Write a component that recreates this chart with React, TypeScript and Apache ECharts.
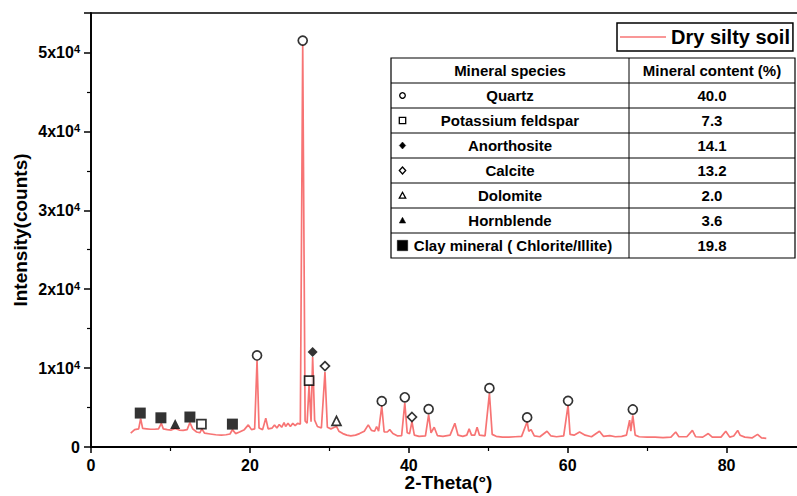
import React, { useEffect, useRef } from "react";
import * as echarts from "echarts";

const FONT = "'Liberation Sans', Arial, sans-serif";

// XRD pattern: [2-theta (deg), intensity (counts)]
const xrdPattern: [number, number][] = [
  [5.0, 1750], [5.5, 2200], [6.0, 2300], [6.25, 3600], [6.5, 2350], [7.0, 2300], [7.5, 2250],
  [8.0, 2250], [8.5, 2300], [8.85, 3000], [9.1, 2300], [9.6, 2200], [10.1, 2150], [10.6, 2350],
  [11.1, 2150], [11.6, 2100], [12.1, 2200], [12.45, 3100], [12.8, 2300], [13.3, 1900], [13.7, 1800],
  [13.95, 2300], [14.3, 1750], [15.0, 1650], [15.7, 1550], [16.4, 1500], [17.0, 1550], [17.5, 1650],
  [17.8, 2200], [18.2, 1700], [18.7, 1900], [19.3, 2200], [19.8, 2800], [20.2, 2200], [20.6, 2300],
  [20.9, 11000], [21.15, 2400], [21.6, 2200], [22.0, 3650], [22.3, 2300], [22.8, 2400], [23.1, 2800],
  [23.4, 2400], [23.7, 2850], [24.0, 2500], [24.3, 3100], [24.5, 2600], [24.8, 3000], [25.1, 2600],
  [25.4, 3000], [25.7, 2700], [26.0, 3000], [26.35, 2900], [26.65, 51000], [26.95, 3300], [27.2, 3000],
  [27.45, 7850], [27.7, 3200], [27.9, 11400], [28.15, 3400], [28.5, 2600], [29.0, 2400], [29.45, 9500],
  [29.75, 2500], [30.2, 2300], [30.65, 2500], [30.9, 2600], [31.2, 2000], [31.7, 1700], [32.2, 1500],
  [32.7, 1400], [33.3, 1500], [33.8, 1700], [34.4, 2000], [34.9, 2800], [35.3, 2100], [35.7, 2000],
  [35.95, 2600], [36.2, 2000], [36.6, 5200], [36.9, 1900], [37.3, 1900], [37.6, 2200], [38.0, 1700],
  [38.6, 1400], [39.1, 1450], [39.5, 5600], [39.8, 1800], [40.1, 1700], [40.4, 3200], [40.7, 1500],
  [41.3, 1350], [42.1, 1400], [42.5, 4100], [42.8, 1800], [43.2, 2500], [43.6, 1450], [44.3, 1350],
  [45.2, 1500], [45.8, 3000], [46.2, 1500], [46.8, 1350], [47.3, 1500], [47.6, 2300], [47.9, 1500],
  [48.3, 1500], [48.6, 2500], [48.9, 1500], [49.6, 1400], [50.15, 6800], [50.5, 1600], [51.0, 1350],
  [51.8, 1250], [52.6, 1250], [53.4, 1300], [54.2, 1350], [54.9, 3200], [55.1, 2000], [55.4, 2200],
  [55.8, 1400], [56.5, 1300], [57.4, 2000], [57.9, 1400], [58.6, 1300], [59.5, 1400], [60.05, 5300],
  [60.3, 1600], [60.8, 1500], [61.5, 1900], [62.2, 1500], [63.0, 1300], [64.0, 2000], [64.5, 1350],
  [65.3, 1450], [66.0, 1300], [66.8, 1350], [67.4, 1500], [67.8, 3400], [67.95, 2000], [68.2, 4000],
  [68.5, 1500], [69.0, 1300], [70.0, 1250], [71.0, 1250], [72.0, 1200], [73.0, 1250], [73.6, 1900],
  [74.0, 1300], [75.0, 1300], [75.7, 2100], [76.1, 1300], [77.0, 1250], [77.7, 1700], [78.2, 1250],
  [79.3, 1250], [79.9, 2000], [80.4, 1250], [80.9, 1400], [81.4, 2100], [81.7, 1500], [82.3, 1250],
  [83.2, 1150], [83.9, 1600], [84.4, 1150], [85.0, 1100],
];

// Phase markers placed above peaks: [2-theta, intensity]
const quartzMarks: [number, number][] = [
  [20.9, 11600], [26.65, 51500], [36.6, 5800], [39.5, 6300], [42.5, 4800],
  [50.15, 7450], [54.9, 3750], [60.05, 5850], [68.2, 4750],
];
const feldsparMarks: [number, number][] = [[13.9, 2900], [27.45, 8400]];
const anorthositeMarks: [number, number][] = [[27.9, 12050]];
const calciteMarks: [number, number][] = [[29.45, 10250], [40.4, 3800]];
const dolomiteMarks: [number, number][] = [[30.9, 3300]];
const hornblendeMarks: [number, number][] = [[10.6, 2900]];
const clayMarks: [number, number][] = [[6.2, 4300], [8.8, 3700], [12.45, 3800], [17.8, 2900]];

// Table contents
const tableHeader = ["Mineral species", "Mineral content (%)"];
const mineralNames = [
  "Quartz", "Potassium feldspar", "Anorthosite", "Calcite", "Dolomite", "Hornblende",
  "Clay mineral ( Chlorite/Illite)",
];
const mineralContents = ["40.0", "7.3", "14.1", "13.2", "2.0", "3.6", "19.8"];
const mineralSymbols = ["circleO", "rectO", "diamondF", "diamondO", "triangleO", "triangleF", "rectF"];

const xTicks = { min: 0, max: 90, interval: 20 };
const yTicks = { min: 0, max: 55000, interval: 10000 };

const seriesName = "Dry silty soil";

function symbolGraphic(kind: string, cx: number, cy: number, big: boolean): any {
  const s = big ? 5.2 : 3.2;
  const filled = kind.endsWith("F");
  const style = { fill: filled ? "#000" : "#fff", stroke: "#000", lineWidth: filled ? 0.5 : 1.3 };
  if (kind.startsWith("circle")) return { type: "circle", shape: { cx, cy, r: s - 0.4 }, style };
  if (kind.startsWith("rect"))
    return { type: "rect", shape: { x: cx - s, y: cy - s, width: 2 * s, height: 2 * s }, style };
  if (kind.startsWith("diamond"))
    return { type: "polygon", shape: { points: [[cx, cy - s - 0.3], [cx + s, cy], [cx, cy + s + 0.3], [cx - s, cy]] }, style };
  return { type: "polygon", shape: { points: [[cx, cy - s], [cx + s, cy + s * 0.8], [cx - s, cy + s * 0.8]] }, style };
}

function buildTable(): any[] {
  const x0 = 391, x1 = 629, x2 = 795, y0 = 58, rh = 25;
  const rows = mineralNames.length + 1;
  const els: any[] = [];
  els.push({
    type: "rect",
    shape: { x: x0, y: y0, width: x2 - x0, height: rh * rows },
    style: { fill: "#fff", stroke: "#000", lineWidth: 1.2 },
  });
  for (let i = 1; i < rows; i++) {
    els.push({ type: "line", shape: { x1: x0, y1: y0 + rh * i, x2: x2, y2: y0 + rh * i }, style: { stroke: "#000", lineWidth: 1 } });
  }
  els.push({ type: "line", shape: { x1: x1, y1: y0, x2: x1, y2: y0 + rh * rows }, style: { stroke: "#000", lineWidth: 1 } });
  const txt = (t: string, x: number, y: number) => ({
    type: "text",
    style: { text: t, x, y, align: "center", verticalAlign: "middle", font: `bold 15px ${FONT}`, fill: "#000" },
  });
  els.push(txt(tableHeader[0], (x0 + x1) / 2, y0 + rh / 2));
  els.push(txt(tableHeader[1], (x1 + x2) / 2, y0 + rh / 2));
  mineralNames.forEach((n, i) => {
    const cy = y0 + rh * (i + 1) + rh / 2;
    const last = i === mineralNames.length - 1;
    els.push(txt(n, last ? 513 : (x0 + x1) / 2, cy));
    els.push(txt(mineralContents[i], (x1 + x2) / 2, cy));
    els.push(symbolGraphic(mineralSymbols[i], 402.5, cy, last));
  });
  return els;
}

export default function App() {
  const ref = useRef<HTMLDivElement>(null);
  useEffect(() => {
    document.body.style.margin = "0";
    const chart = echarts.init(ref.current!, undefined, { renderer: "svg" });
    const markSeries = (data: [number, number][], symbol: string, filled: boolean, size: number) => ({
      type: "scatter",
      data,
      symbol,
      symbolSize: size,
      z: 5,
      itemStyle: { color: filled ? "#000" : "#fff", borderColor: "#000", borderWidth: filled ? 0 : 1.7 },
      silent: true,
    });
    chart.setOption({
      animation: false,
      backgroundColor: "#fff",
      textStyle: { fontFamily: FONT },
      grid: {
        left: 91, top: 13, bottom: 49, right: -9, show: true, borderColor: "#000", borderWidth: 1.5,
        outerBoundsMode: "none", containLabel: false,
      },
      legend: {
        data: [{ name: seriesName, icon: "rect" }],
        left: 617,
        top: 23,
        itemWidth: 46,
        itemHeight: 1.6,
        itemGap: 4,
        padding: [3, 3, 3, 3],
        borderColor: "#000",
        borderWidth: 1.5,
        backgroundColor: "#fff",
        textStyle: { fontSize: 20, fontWeight: "bold", color: "#000", fontFamily: FONT, lineHeight: 22 },
      },
      xAxis: {
        type: "value",
        min: xTicks.min,
        max: xTicks.max,
        interval: xTicks.interval,
        name: "2-Theta(°)",
        nameLocation: "middle",
        nameGap: 26,
        nameMoveOverlap: false,
        nameTextStyle: { fontSize: 19, fontWeight: "bold", color: "#000", fontFamily: FONT, lineHeight: 19 },
        axisLine: { lineStyle: { color: "#000", width: 1.8 } },
        axisTick: { length: 6, lineStyle: { color: "#000", width: 1.5 } },
        minorTick: { show: true, splitNumber: 2, length: 4, lineStyle: { color: "#000", width: 1.2 } },
        splitLine: { show: false },
        axisLabel: { margin: 10, fontSize: 16, fontWeight: "bold", color: "#000", fontFamily: FONT, showMaxLabel: false },
      },
      yAxis: {
        type: "value",
        min: yTicks.min,
        max: yTicks.max,
        interval: yTicks.interval,
        name: "Intensity(counts)",
        nameLocation: "middle",
        nameGap: 61,
        nameMoveOverlap: false,
        nameTextStyle: { fontSize: 19, fontWeight: "bold", color: "#000", fontFamily: FONT },
        axisLine: { show: true, lineStyle: { color: "#000", width: 1.8 } },
        axisTick: { show: true, length: 7, lineStyle: { color: "#000", width: 1.5 } },
        minorTick: { show: true, splitNumber: 2, length: 4, lineStyle: { color: "#000", width: 1.2 } },
        splitLine: { show: false },
        axisLabel: {
          margin: 11,
          color: "#000",
          showMaxLabel: false,
          formatter: (v: number) => (v === 0 ? "{b|0}" : `{b|${v / 10000}x10}{s|4}`),
          rich: {
            b: { fontSize: 16, fontWeight: "bold", color: "#000", fontFamily: FONT, lineHeight: 18 },
            s: { fontSize: 11, fontWeight: "bold", color: "#000", fontFamily: FONT, verticalAlign: "top", lineHeight: 11 },
          },
        },
      },
      series: [
        {
          name: seriesName,
          type: "line",
          data: xrdPattern,
          symbol: "none",
          showSymbol: false,
          lineStyle: { color: "#f77474", width: 1.7 },
          itemStyle: { color: "#f77474" },
          z: 3,
        },
        markSeries(quartzMarks, "circle", false, 9),
        markSeries(feldsparMarks, "rect", false, 9),
        markSeries(anorthositeMarks, "diamond", true, 10),
        markSeries(calciteMarks, "diamond", false, 9),
        markSeries(dolomiteMarks, "triangle", false, 9),
        markSeries(hornblendeMarks, "triangle", true, 10),
        markSeries(clayMarks, "rect", true, 11),
      ],
      graphic: buildTable(),
    });
    return () => chart.dispose();
  }, []);
  return <div ref={ref} style={{ width: 797, height: 496 }} />;
}
